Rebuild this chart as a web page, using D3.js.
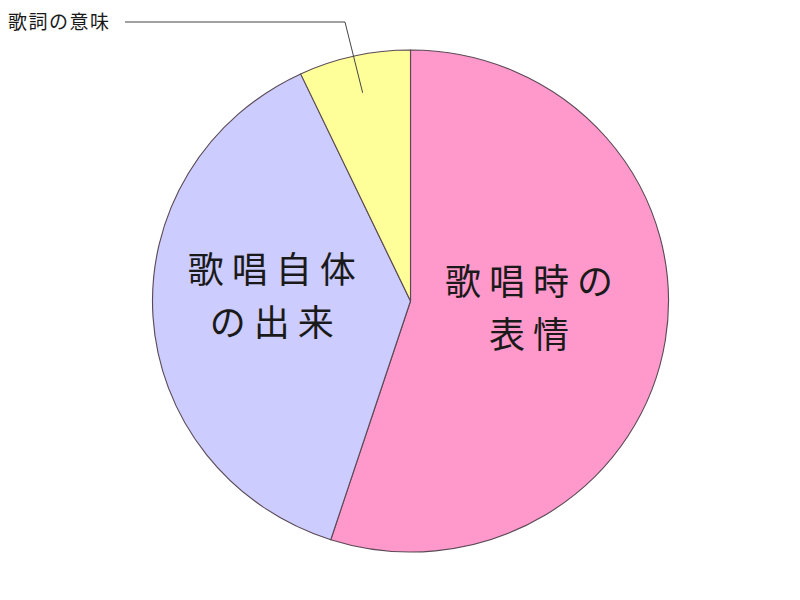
<!DOCTYPE html>
<html><head><meta charset="utf-8">
<script src="https://cdn.jsdelivr.net/npm/d3@7/dist/d3.min.js"></script>
<style>body{margin:0;background:#fff}svg{display:block}</style>
</head><body><svg id="c" width="800" height="600"></svg>
<script>
const categories = ["歌唱時の表情", "歌唱自体の出来", "歌詞の意味"];
const labelLines = [["歌唱時の", "表情"], ["歌唱自体", "の出来"], ["歌詞の意味"]];
const values = [55, 38, 7];
const colors = ["#ff99cc", "#ccccff", "#ffff99"];

const svg = d3.select("#c");
const cx = 410.5, cy = 301, r = 251, sx = 258 / 251;
const font = "'Noto Sans CJK JP', 'Noto Sans', sans-serif";

const pie = d3.pie().sort(null).value(d => d)(values);
const arc = d3.arc().innerRadius(0).outerRadius(r);

const g = svg.append("g").attr("transform", `translate(${cx},${cy}) scale(${sx},1)`);
g.selectAll("path").data(pie).join("path")
  .attr("d", arc)
  .attr("fill", (d, i) => colors[i])
  .attr("stroke", "#5a4a55")
  .attr("stroke-width", 1.1)
  .attr("stroke-linejoin", "round");

// inside labels for the two big slices
[0, 1].forEach(i => {
  const c = d3.arc().innerRadius(r * 0.5).outerRadius(r * 0.5).centroid(pie[i]);
  const x = cx + c[0] * sx + (i === 0 ? -5 : -6);
  const y = cy + c[1];
  const t = svg.append("text")
    .attr("x", x).attr("y", y - 26)
    .attr("text-anchor", "middle")
    .attr("font-family", font).attr("font-size", 36)
    .attr("letter-spacing", 8)
    .attr("fill", "#1a1a1a");
  labelLines[i].forEach((line, k) => {
    t.append("tspan").attr("x", x).attr("dy", k === 0 ? 0 : 53).text(line);
  });
});

// callout for small slice
const p = d3.arc().innerRadius(r * 0.85).outerRadius(r * 0.85).centroid(pie[2]);
const ex = cx + p[0] * sx, ey = cy + p[1];
svg.append("polyline")
  .attr("points", `125,22 345,22 ${ex},${ey}`)
  .attr("fill", "none").attr("stroke", "#444").attr("stroke-width", 1);
svg.append("text")
  .attr("x", 8).attr("y", 29)
  .attr("font-family", font).attr("font-size", 19)
  .attr("letter-spacing", 1.5)
  .attr("fill", "#1a1a1a")
  .text(labelLines[2][0]);
</script></body></html>
